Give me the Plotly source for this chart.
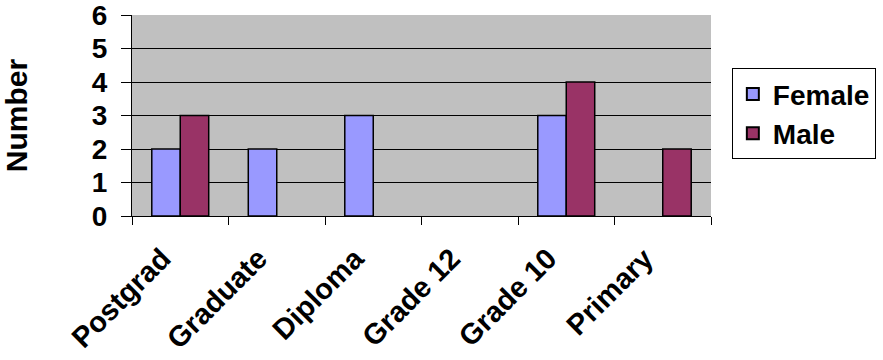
import plotly.graph_objects as go

# Education level counts by sex
categories = ["Postgrad", "Graduate", "Diploma", "Grade 12", "Grade 10", "Primary"]
female = [2, 2, 3, 0, 3, 0]
male = [3, 0, 0, 0, 4, 2]
y_ticks = [0, 1, 2, 3, 4, 5, 6]

FONT = "Liberation Sans, Arial, sans-serif"


def outline(values):
    # no outline on empty bars, so zero counts leave no mark
    return [1.5 if v else 0 for v in values]


fig = go.Figure()
fig.add_trace(go.Bar(
    name="Female", x=categories, y=female,
    marker=dict(color="#9999FF", line=dict(color="black", width=outline(female))),
))
fig.add_trace(go.Bar(
    name="Male", x=categories, y=male,
    marker=dict(color="#993366", line=dict(color="black", width=outline(male))),
))

fig.update_layout(
    width=883, height=360,
    margin=dict(l=132, r=172, t=15, b=144, autoexpand=False),
    paper_bgcolor="white",
    plot_bgcolor="#C0C0C0",
    barmode="group",
    bargap=0.41,
    bargroupgap=0,
    font=dict(family=FONT, color="black"),
    showlegend=True,
    legend=dict(
        x=1.036, y=0.735, xanchor="left", yanchor="top",
        bgcolor="white", bordercolor="black", borderwidth=1,
        font=dict(size=28, family=FONT, weight="bold"),
        itemsizing="constant",
        itemwidth=30,
        tracegroupgap=0,
    ),
)

fig.update_xaxes(
    type="category",
    range=[-0.5, 5.5],
    automargin=False,
    showline=True, linecolor="black", linewidth=1,
    ticks="outside", tickson="boundaries", ticklen=8, tickcolor="black",
    tickangle=-45,
    tickfont=dict(size=29, family=FONT, weight="bold"),
    ticklabelshift=-18,
    ticklabelstandoff=13,
    ticklabeloverflow="allow",
    showgrid=False,
)
fig.update_yaxes(
    range=[0, 6],
    tickvals=y_ticks,
    automargin=False,
    showline=True, linecolor="black", linewidth=1,
    ticks="outside", ticklen=10, tickcolor="black",
    tickfont=dict(size=28, family=FONT, weight="bold"),
    ticklabelstandoff=8,
    ticklabeloverflow="allow",
    showgrid=True, gridcolor="black", gridwidth=1,
    zeroline=False,
    title=dict(text="Number", font=dict(size=30, family=FONT, weight="bold"), standoff=55),
)

fig.write_html("out.html")
